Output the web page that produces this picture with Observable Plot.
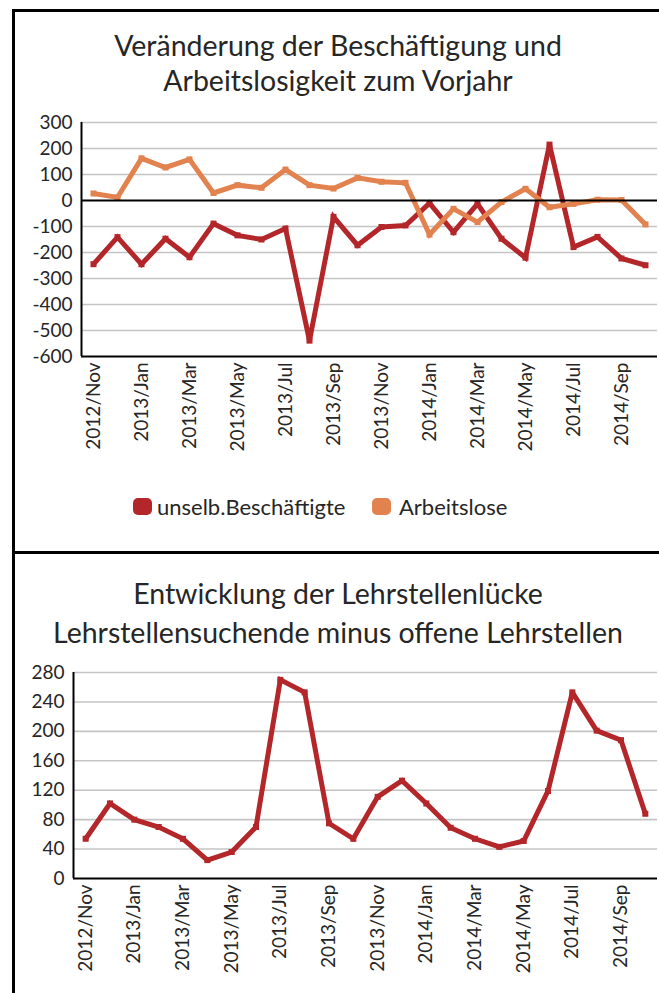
<!DOCTYPE html>
<html><head><meta charset="utf-8">
<script src="https://cdn.jsdelivr.net/npm/d3@7"></script>
<script src="https://cdn.jsdelivr.net/npm/@observablehq/plot@0.6"></script>
<style>
body{margin:0;background:#fff;}
#page{position:relative;width:659px;height:993px;overflow:hidden;font-family:Lato,"Open Sans",sans-serif;color:#222;background:#fff;}
.frame{position:absolute;box-sizing:border-box;border:0 solid #000;}
.tline{position:absolute;left:17px;right:0;text-align:center;font-size:28.5px;line-height:34px;color:#262626;white-space:nowrap;}
.chart{position:absolute;left:0;}
#legend{position:absolute;top:493px;left:0;width:659px;height:28px;font-size:22px;line-height:28px;color:#262626;}
.sw{position:absolute;top:5px;width:19px;height:17px;border-radius:5px;}
.lt{position:absolute;top:0;white-space:nowrap;}
</style>
</head><body>
<div id="page">
  <div class="frame" style="left:12px;top:9px;width:700px;height:545px;border-top-width:3px;border-left-width:3px;border-bottom-width:3px;"></div>
  <div class="frame" style="left:12px;top:551px;width:10px;height:460px;border-left-width:3px;"></div>
  <div id="top"></div>
  <div id="bottom"></div>
  <div class="tline" style="top:28px;">Veränderung der Beschäftigung und</div>
  <div class="tline" style="top:63px;">Arbeitslosigkeit zum Vorjahr</div>
  <div class="tline" style="top:576px;">Entwicklung der Lehrstellenlücke</div>
  <div class="tline" style="top:615px;">Lehrstellensuchende minus offene Lehrstellen</div>
  <div id="legend"></div>
</div>
<script>
const months = ["2012/Nov","2012/Dec","2013/Jan","2013/Feb","2013/Mar","2013/Apr","2013/May","2013/Jun","2013/Jul","2013/Aug","2013/Sep","2013/Oct","2013/Nov","2013/Dec","2014/Jan","2014/Feb","2014/Mar","2014/Apr","2014/May","2014/Jun","2014/Jul","2014/Aug","2014/Sep","2014/Oct"];
const beschaeftigte = [-245,-141,-245,-147,-218,-89,-134,-150,-108,-539,-63,-172,-102,-96,-10,-122,-13,-147,-220,215,-179,-140,-223,-249];
const arbeitslose = [27,12,162,127,158,29,59,49,119,59,46,87,72,68,-131,-32,-83,-6,45,-26,-13,3,2,-92];
const lehrstellenluecke = [54,102,80,70,54,25,36,70,270,253,75,54,111,133,102,69,54,43,51,119,253,201,188,88];
const seriesNames = ["unselb.Beschäftigte","Arbeitslose"];
const seriesColors = ["#b3262a","#e2824f"];
const tickMonths = months.filter((d,i)=>i%2===0);
const yTicksTop = [300,200,100,0,-100,-200,-300,-400,-500,-600];
const yTicksBottom = [0,40,80,120,160,200,240,280];

const idx = m => months.indexOf(m);
const xTickIdx = tickMonths.map(idx);
const styleBase = {fontFamily:"Lato, 'Open Sans', sans-serif", fontSize:"19px", color:"#262626", background:"transparent", overflow:"visible"};

function lineMarks(values, color){
  return [
    Plot.line(values, {x:(d,i)=>i, y:d=>d, stroke:color, strokeWidth:5, strokeLinejoin:"miter", strokeLinecap:"butt", strokeMiterlimit:2.5}),
    Plot.dot(values, {x:(d,i)=>i, y:d=>d, symbol:"square", r:3.4, fill:color, stroke:"none"})
  ];
}

const topChart = Plot.plot({
  width:659, height:380, marginTop:22, marginBottom:124, marginLeft:81, marginRight:2,
  style:styleBase,
  x:{type:"linear", domain:[-0.5, months.length-0.5]},
  y:{domain:[-600,300]},
  marks:[
    Plot.gridY(yTicksTop.filter(v=>v!==0 && v!==-600), {stroke:"#c4c4c4", strokeOpacity:1, strokeWidth:1.6}),
    ...lineMarks(beschaeftigte, seriesColors[0]),
    ...lineMarks(arbeitslose, seriesColors[1]),
    Plot.ruleY([0], {stroke:"#000", strokeWidth:1.8}),
    Plot.ruleY([-600], {stroke:"#000", strokeWidth:2}),
    Plot.ruleX([-0.5], {stroke:"#000", strokeWidth:2}),
    Plot.axisY({ticks:yTicksTop, tickSize:0, tickPadding:9, tickFormat:d=>String(d), label:null}),
    Plot.axisX({ticks:xTickIdx, tickSize:0, tickPadding:6, tickRotate:-90, tickFormat:i=>months[i], label:null})
  ]
});
const topDiv = document.getElementById("top");
topDiv.className = "chart"; topDiv.style.top = "100px";
topDiv.appendChild(topChart);

const bottomChart = Plot.plot({
  width:659, height:343, marginTop:22, marginBottom:115, marginLeft:73, marginRight:2,
  style:styleBase,
  x:{type:"linear", domain:[-0.5, months.length-0.5]},
  y:{domain:[0,280]},
  marks:[
    Plot.gridY(yTicksBottom.filter(v=>v!==0), {stroke:"#c4c4c4", strokeOpacity:1, strokeWidth:1.6}),
    ...lineMarks(lehrstellenluecke, seriesColors[0]),
    Plot.ruleY([0], {stroke:"#000", strokeWidth:2}),
    Plot.ruleX([-0.5], {stroke:"#000", strokeWidth:2}),
    Plot.axisY({ticks:yTicksBottom, tickSize:0, tickPadding:9, tickFormat:d=>String(d), label:null}),
    Plot.axisX({ticks:xTickIdx, tickSize:0, tickPadding:6, tickRotate:-90, tickFormat:i=>months[i], label:null})
  ]
});
const botDiv = document.getElementById("bottom");
botDiv.className = "chart"; botDiv.style.top = "650px";
botDiv.appendChild(bottomChart);

// legend
const lg = document.getElementById("legend");
const lx = [[133,157],[372,399]];
seriesNames.forEach((n,i)=>{
  const s = document.createElement("div"); s.className="sw"; s.style.left=lx[i][0]+"px"; s.style.background=seriesColors[i]; lg.appendChild(s);
  const t = document.createElement("div"); t.className="lt"; t.style.left=lx[i][1]+"px"; t.textContent=n; lg.appendChild(t);
});
</script>
</body></html>
